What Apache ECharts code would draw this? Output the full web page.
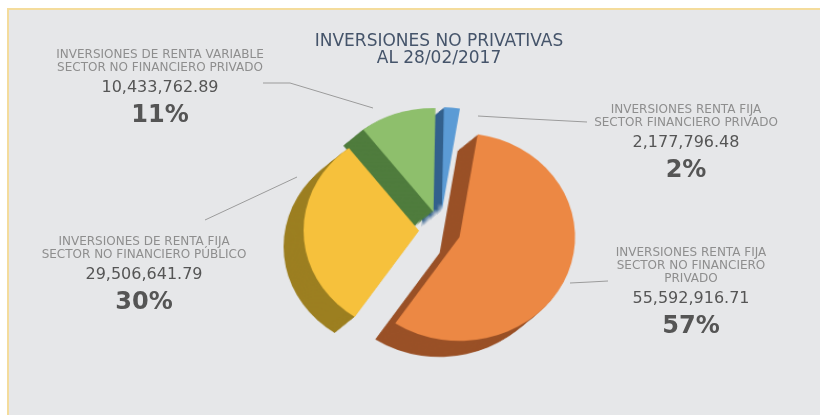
<!DOCTYPE html>
<html>
<head>
<meta charset="utf-8">
<title></title>
<script src="https://cdn.jsdelivr.net/npm/echarts@6/dist/echarts.min.js"></script>
<style>
	body { margin: 0; background: #fff; }
	#panel {
		position: absolute; left: 7px; top: 8px; width: 813px; height: 407px;
		box-sizing: border-box; background: #e6e7e9;
		border-left: 2px solid #f4dc9c; border-top: 2px solid #f4dc9c;
	}
	/* the pie is a bit tilted in the original, so squash it slightly */
	#pie {
		position: absolute; left: 0; top: 0; width: 820px; height: 415px;
		transform-origin: 440px 230px; transform: scale(1.05, 0.945);
	}
	#main { position: absolute; left: 0; top: 0; width: 820px; height: 415px; }
</style>
</head>
<body>
<div id="panel"></div>
<div id="pie"></div>
<div id="main"></div>
<script>
	var names = [
		'INVERSIONES RENTA FIJA\nSECTOR FINANCIERO PRIVADO',
		'INVERSIONES RENTA FIJA\nSECTOR NO FINANCIERO\nPRIVADO',
		'INVERSIONES DE RENTA FIJA\nSECTOR NO FINANCIERO PÚBLICO',
		'INVERSIONES DE RENTA VARIABLE\nSECTOR NO FINANCIERO PRIVADO'
	];
	var values = [2177796.48, 55592916.71, 29506641.79, 10433762.89];
	var faceColors = ['#5b9bd5', '#ec8844', '#f6c13c', '#8ebf6c'];
	var sideColors = ['#33608d', '#9a5127', '#9c7f20', '#4f7c3d'];

	// where each label block sits and its leader line
	var labelPos = [[686, 144.5], [691, 294], [144, 276.5], [160, 89.5]];
	var leaders = [
		[[478, 116], [530, 119], [587, 122]],
		[[570, 283], [590, 282], [608, 281]],
		[[297, 177], [250, 199], [205, 220]],
		[[373, 108], [290, 83], [263, 83]]
	];

	var font = 'DejaVu Sans';
	var cx = 440, cy = 230, r = 110;
	var depth = [-19, 17];
	var layers = 16;
	var start = 89;

	function money(v) {
		return v.toLocaleString('en-US', { minimumFractionDigits: 2, maximumFractionDigits: 2 });
	}

	var pieSeries = [];
	// stacked copies give the 3d depth, last one is the top face
	for (var i = 0; i <= layers; i++) {
		var t = 1 - i / layers;
		var isTop = i === layers;
		pieSeries.push({
			type: 'pie',
			radius: r,
			center: [cx + depth[0] * t, cy + depth[1] * t],
			startAngle: start,
			clockwise: true,
			selectedMode: 'multiple',
			selectedOffset: 20,
			silent: true,
			z: i + 1,
			label: { show: false },
			labelLine: { show: false },
			itemStyle: { borderWidth: 0 },
			data: values.map(function (v, k) {
				return {
					name: names[k], value: v, selected: true,
					itemStyle: { color: isTop ? faceColors[k] : sideColors[k] }
				};
			})
		});
	}

	var pie = echarts.init(document.getElementById('pie'));
	pie.setOption({ animation: false, backgroundColor: 'transparent', series: pieSeries });

	// second layer: title and the labels of an invisible pie
	var chart = echarts.init(document.getElementById('main'));
	chart.setOption({
		animation: false,
		backgroundColor: 'transparent',
		title: {
			text: 'INVERSIONES NO PRIVATIVAS\nAL 28/02/2017',
			left: 434,
			top: 28,
			textAlign: 'center',
			textStyle: { fontFamily: font, fontSize: 17, fontWeight: 'normal', color: '#45546a', lineHeight: 17 }
		},
		series: [{
			type: 'pie',
			radius: r,
			center: [cx, cy],
			startAngle: start,
			clockwise: true,
			silent: true,
			avoidLabelOverlap: false,
			itemStyle: { color: 'rgba(0,0,0,0)', borderWidth: 0 },
			label: {
				show: true,
				position: 'outside',
				fontFamily: font,
				formatter: function (p) {
					return '{n|' + p.name + '}\n{v|' + money(p.value) + '}\n{p|' + Math.round(p.percent) + '%}';
				},
				rich: {
					n: { fontFamily: font, fontSize: 12, color: '#8e8e8e', lineHeight: 13, align: 'center' },
					v: { fontFamily: font, fontSize: 16, color: '#555', lineHeight: 26, align: 'center' },
					p: { fontFamily: font, fontSize: 24, fontWeight: 'bold', color: '#555', lineHeight: 30, align: 'center' }
				}
			},
			labelLine: { show: true, smooth: false, lineStyle: { color: '#9b9b9b', width: 1 } },
			labelLayout: function (p) {
				var i = p.dataIndex;
				return {
					x: labelPos[i][0], y: labelPos[i][1],
					align: 'center', verticalAlign: 'middle',
					labelLinePoints: leaders[i]
				};
			},
			data: values.map(function (v, k) {
				return { name: names[k], value: v };
			})
		}]
	});
</script>
</body>
</html>
